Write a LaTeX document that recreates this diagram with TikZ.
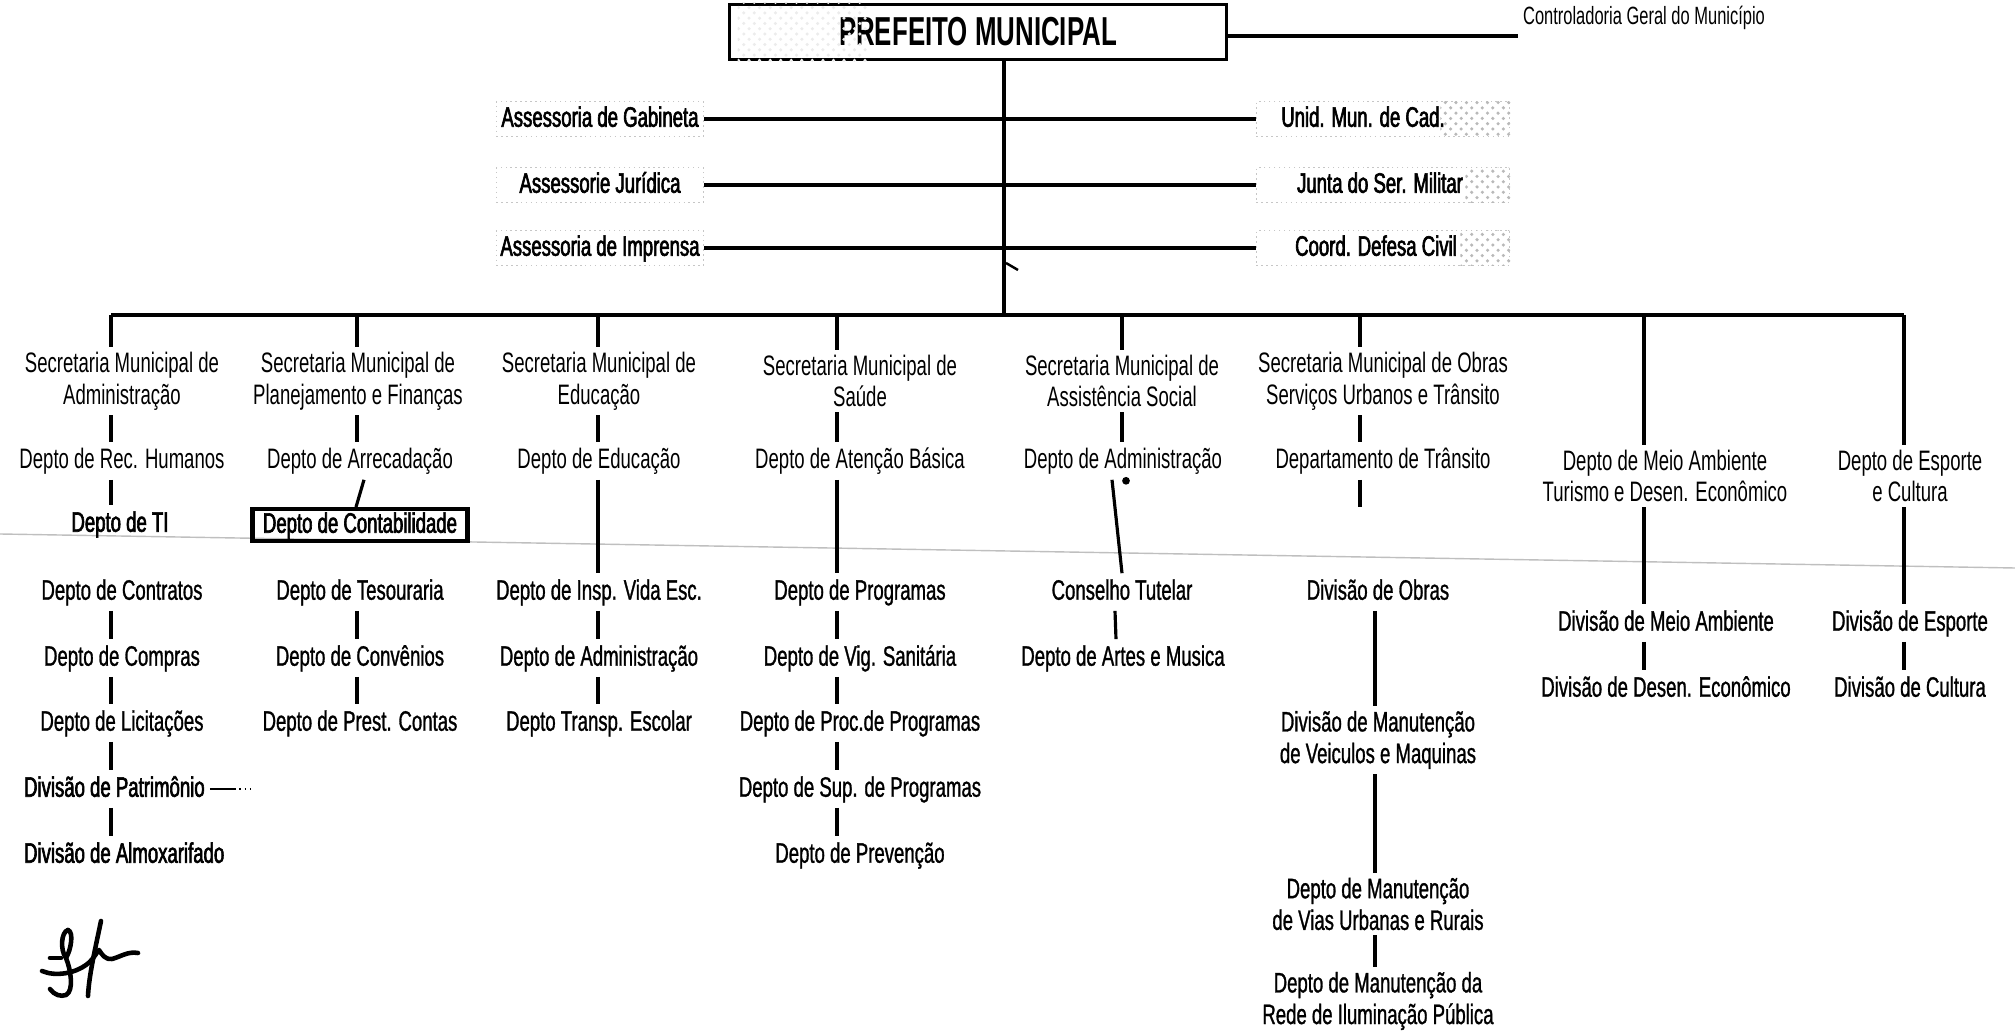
\documentclass[tikz,border=0pt]{standalone}
\usepackage{fontspec}
\setmainfont{Liberation Sans}[FakeStretch=0.66]
\newfontfamily\medfont{Liberation Sans}[FakeStretch=0.66, FakeBold=1]
\newfontfamily\heavyfont{Liberation Sans}[FakeStretch=0.66, FakeBold=2.2]
\newfontfamily\headfont{Liberation Sans}[FakeStretch=0.64]
\usepackage{tikz}
\usetikzlibrary{shapes,arrows.meta,backgrounds}
\usetikzlibrary{positioning, patterns}
\tikzset{
  unit/.style={ font=\fontsize{8}{9}\selectfont, inner sep=1pt, text height=6.1pt, text depth=1.7pt }
}
\tikzset{
  unitM/.style={ unit, font=\fontsize{8}{9}\selectfont\medfont }
}
\tikzset{
  unitH/.style={ unit, font=\fontsize{8}{9}\selectfont\heavyfont }
}
\tikzset{
  secr/.style={ font=\fontsize{8}{9}\selectfont, align=center, inner sep=1pt }
}
\tikzset{
  secrM/.style={ secr, font=\fontsize{8}{9}\selectfont\medfont }
}
\tikzset{
  staff/.style={ unitH, draw=gray!45, densely dotted, line width=0.4pt, minimum width=2.07cm }
}
\tikzset{
  staffR/.style={ staff, minimum width=2.53cm }
}
\tikzset{
  chief/.style={ draw, line width=1pt, font=\fontsize{11.5}{13}\selectfont\headfont\bfseries, minimum width=4.97cm, minimum height=0.55cm }
}
\tikzset{
  noise/.style={ pattern=crosshatch dots, pattern color=gray!55 }
}
\tikzset{
  sig/.style={ line width=1.3pt, line cap=round, line join=round }
}

\begin{document}
\begin{tikzpicture}[x=0.01cm, y=-0.01cm, line width=0.9pt]
  \useasboundingbox (0,0) rectangle (2015,1031);
  % crease of the scanned sheet
  \draw[gray!50, line width=0.4pt] (0,534) -- (2015,568);

  % head
  \node[chief] (pm) at (978,32) {PREFEITO MUNICIPAL};
  \fill[noise, pattern color=gray!15] ([xshift=0.1cm]pm.north west) rectangle ([xshift=1.4cm]pm.south west);
  \node[unit, font=\fontsize{7.1}{9}\selectfont, anchor=south west] (cg) at (1518,36) {Controladoria Geral do Município};
  \draw (pm.east |- cg.south west) -- (cg.south west);

  % staff
  \node[staff] (s1) at (600,119) {Assessoria de Gabineta};
  \node[staff] (s2) at (600,185) {Assessorie Jurídica};
  \node[staff] (s3) at (600,248) {Assessoria de Imprensa};
  \node[staffR] (r1) at (1383,119) {Unid. Mun. de Cad.\hspace*{0.4cm}};
  \node[staffR] (r2) at (1383,185) {Junta do Ser. Militar\hspace*{0.06cm}};
  \node[staffR] (r3) at (1383,248) {Coord. Defesa Civil\hspace*{0.14cm}};
  \fill[noise] ([xshift=-0.7cm]r1.north east) rectangle (r1.south east);
  \fill[noise] ([xshift=-0.45cm]r2.north east) rectangle (r2.south east);
  \fill[noise] ([xshift=-0.5cm]r3.north east) rectangle (r3.south east);
  \draw (s1) -- (r1);
  \draw (s2) -- (r2);
  \draw (s3) -- (r3);

  % trunk and bus
  \coordinate (tr) at (1004,315);
  \draw (pm.south -| tr) -- (tr);
  \coordinate (tk) at (1006,263);
  \draw[line width=0.7pt] (tk) -- ++(12,7);
  \coordinate (x1) at (111,315);
  \coordinate (x2) at (357,315);
  \coordinate (x3) at (598,315);
  \coordinate (x4) at (837,315);
  \coordinate (x5) at (1122,315);
  \coordinate (x6) at (1360,315);
  \coordinate (x7) at (1644,315);
  \coordinate (x8) at (1904,315);
  \draw (x1) -- (x8);

  % Administracao
  \node[secr] (a0) at (122,381) {Secretaria Municipal de\\Administração};
  \node[unit] (a1) at (122,461) {Depto de Rec. Humanos};
  \node[unitH] (a2) at (120,524) {Depto de TI};
  \node[unitM] (a3) at (122,592) {Depto de Contratos};
  \node[unitM] (a4) at (122,658) {Depto de Compras};
  \node[unitM] (a5) at (122,723) {Depto de Licitações};
  \node[unitH, anchor=west] (a6) at (19,789) {Divisão de Patrimônio};
  \node[unitH, anchor=west] (a7) at (19,855) {Divisão de Almoxarifado};
  \coordinate (pt) at (234,789);
  \draw (x1) -- (a0.north -| x1);
  \draw (a0.south -| x1) -- (a1.north -| x1);
  \draw (a1.south -| x1) -- (a2.north -| x1);
  \draw (a3.south -| x1) -- (a4.north -| x1);
  \draw (a4.south -| x1) -- (a5.north -| x1);
  \draw (a5.south -| x1) -- (a6.north -| x1);
  \draw (a6.south -| x1) -- (a7.north -| x1);
  \draw[line width=0.5pt] (a6.east) -- (pt);
  \draw[line width=0.5pt, densely dotted] (pt) -- ++(16,0);

  % Planejamento e Financas
  \node[secr] (b0) at (358,381) {Secretaria Municipal de\\Planejamento e Finanças};
  \node[unit] (b1) at (360,461) {Depto de Arrecadação};
  \node[unitH, draw, line width=1.2pt, inner xsep=3pt, inner ysep=0.6pt] (b2) at (360,525) {Depto de Contabilidade};
  \node[unitM] (b3) at (360,592) {Depto de Tesouraria};
  \node[unitM] (b4) at (360,658) {Depto de Convênios};
  \node[unitM] (b5) at (360,723) {Depto de Prest. Contas};
  \draw (x2) -- (b0.north -| x2);
  \draw (b0.south -| x2) -- (b1.north -| x2);
  \draw ([xshift=0.04cm]b1.south) -- ([xshift=-0.04cm]b2.north);
  \draw (b3.south -| x2) -- (b4.north -| x2);
  \draw (b4.south -| x2) -- (b5.north -| x2);

  % Educacao
  \node[secr] (e0) at (599,381) {Secretaria Municipal de\\Educação};
  \node[unit] (e1) at (599,461) {Depto de Educação};
  \node[unitM] (e2) at (599,592) {Depto de Insp. Vida Esc.};
  \node[unitM] (e3) at (599,658) {Depto de Administração};
  \node[unitM] (e4) at (599,723) {Depto Transp. Escolar};
  \draw (x3) -- (e0.north -| x3);
  \draw (e0.south -| x3) -- (e1.north -| x3);
  \draw (e1.south -| x3) -- (e2.north -| x3);
  \draw (e2.south -| x3) -- (e3.north -| x3);
  \draw (e3.south -| x3) -- (e4.north -| x3);

  % Saude
  \node[secr] (h0) at (860,381) {Secretaria Municipal de\\Saúde};
  \node[unit] (h1) at (860,461) {Depto de Atenção Básica};
  \node[unitM] (h2) at (860,592) {Depto de Programas};
  \node[unitM] (h3) at (860,658) {Depto de Vig. Sanitária};
  \node[unitM] (h4) at (860,723) {Depto de Proc.de Programas};
  \node[unitM] (h5) at (860,789) {Depto de Sup. de Programas};
  \node[unitM] (h6) at (860,855) {Depto de Prevenção};
  \draw (x4) -- (h0.north -| x4);
  \draw (h0.south -| x4) -- (h1.north -| x4);
  \draw (h1.south -| x4) -- (h2.north -| x4);
  \draw (h2.south -| x4) -- (h3.north -| x4);
  \draw (h3.south -| x4) -- (h4.north -| x4);
  \draw (h4.south -| x4) -- (h5.north -| x4);
  \draw (h5.south -| x4) -- (h6.north -| x4);

  % Assistencia Social
  \node[secr] (g0) at (1122,381) {Secretaria Municipal de\\Assistência Social};
  \node[unit] (g1) at (1123,461) {Depto de Administração};
  \node[unitM] (g2) at (1122,592) {Conselho Tutelar};
  \node[unitM] (g3) at (1123,658) {Depto de Artes e Musica};
  \draw (x5) -- (g0.north -| x5);
  \draw (g0.south -| x5) -- (g1.north -| x5);
  \draw (g1.south) ++(-11,0) -- (g2.north);
  \fill (g1.south) ++(3,1) circle (1.1pt);
  \draw ([xshift=-0.07cm]g2.south) -- ([xshift=-0.07cm]g3.north);

  % Obras
  \node[secr] (o0) at (1383,381) {Secretaria Municipal de Obras\\Serviços Urbanos e Trânsito};
  \node[unit] (o1) at (1383,461) {Departamento de Trânsito};
  \coordinate (st) at (1360,507);
  \node[unitM] (o2) at (1378,592) {Divisão de Obras};
  \node[secrM] (o3) at (1378,740) {Divisão de Manutenção\\de Veiculos e Maquinas};
  \node[secrM] (o4) at (1378,904) {Depto de Manutenção\\de Vias Urbanas e Rurais};
  \node[secrM] (o5) at (1378,1001) {Depto de Manutenção da\\Rede de Iluminação Pública};
  \coordinate (x6b) at (1375,0);
  \draw (x6) -- (o0.north -| x6);
  \draw (o0.south -| x6) -- (o1.north -| x6);
  \draw (o1.south -| x6) -- (st);
  \draw (o2.south -| x6b) -- (o3.north -| x6b);
  \draw (o3.south -| x6b) -- (o4.north -| x6b);
  \draw (o4.south -| x6b) -- (o5.north -| x6b);

  % Meio Ambiente
  \node[secr] (m0) at (1665,476) {Depto de Meio Ambiente\\Turismo e Desen. Econômico};
  \node[unitM] (m1) at (1666,623) {Divisão de Meio Ambiente};
  \node[unitM] (m2) at (1666,689) {Divisão de Desen. Econômico};
  \draw (x7) -- (m0.north -| x7);
  \draw (m0.south -| x7) -- (m1.north -| x7);
  \draw (m1.south -| x7) -- (m2.north -| x7);

  % Esporte e Cultura
  \node[secr] (p0) at (1910,476) {Depto de Esporte\\e Cultura};
  \node[unitM] (p1) at (1910,623) {Divisão de Esporte};
  \node[unitM] (p2) at (1910,689) {Divisão de Cultura};
  \draw (x8) -- (p0.north -| x8);
  \draw (p0.south -| x8) -- (p1.north -| x8);
  \draw (p1.south -| x8) -- (p2.north -| x8);

  % rubrica
  \draw[sig] (68,930) .. controls (61,932) and (60,950) .. (66,958) .. controls (71,970) and (74,991) .. (66,995) .. controls (61,997) and (54,995) .. (50,989);
  \draw[sig] (68,930) .. controls (74,932) and (71,950) .. (66,958);
  \draw[sig] (50,958) -- (61,958);
  \draw[sig] (42,971) .. controls (56,977) and (75,973) .. (86,965) .. controls (93,960) and (97,952) .. (99,950) .. controls (102,955) and (106,960) .. (112,959) .. controls (120,957) and (128,951) .. (138,953);
  \draw[sig] (101,921) .. controls (95,950) and (89,975) .. (88,996);
\end{tikzpicture}
\end{document}
